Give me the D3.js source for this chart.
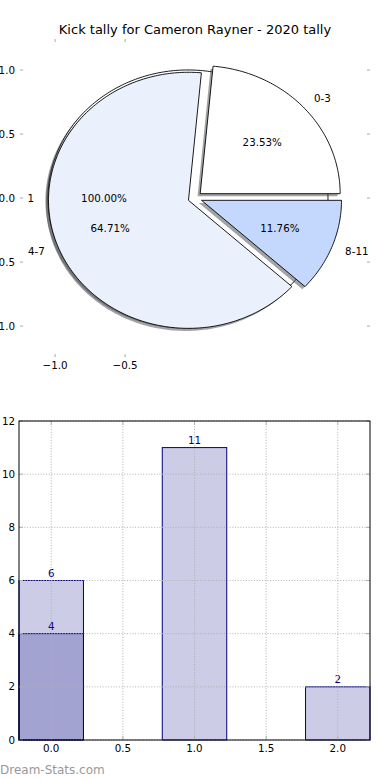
<!DOCTYPE html>
<html><head><meta charset="utf-8">
<script src="https://cdn.jsdelivr.net/npm/d3@7"></script>
<style>body{margin:0;background:#fff} svg{display:block} text{font-family:"DejaVu Sans",sans-serif}</style>
</head><body><svg id="c" width="390" height="780"></svg>
<script>
const title = "Kick tally for Cameron Rayner - 2020 tally";
const pieLabels = ["0-3","4-7","8-11"];
const pieValues = [4,11,2];
const pieColors = ["#ffffff","#eaf1fd","#c4d8fd"];
const outerLabels = ["1"];
const outerValues = [1];
const pieYTicks = [1.0,0.5,0.0,-0.5,-1.0];
const pieXTicks = [-1.0,-0.5];
const barPositions = [0,1,2];
const barValues = [6,11,2];
const overlayPositions = [0];
const overlayValues = [4];
const barXTicks = [0,0.5,1,1.5,2];
const barYTicks = [0,2,4,6,8,10,12];

const svg = d3.select("#c");
const explode = 0.05, labelDist = 1.1, pctDist = 0.6;

// ---------- PIE ----------
const px = d3.scaleLinear().domain([-1.243,1.243]).range([21,369]);
const py = d3.scaleLinear().domain([-1.234,1.234]).range([356,40]);

svg.append("text").attr("x",195).attr("y",34).attr("text-anchor","middle")
  .attr("font-size",13).attr("fill","#000").text(title);

function wedgePath(cx, cy, a0, a1, full){
  const p = d3.path();
  const n = Math.max(8, Math.ceil((a1-a0)/(Math.PI/180)));
  if(!full) p.moveTo(px(cx), py(cy));
  for(let i=0;i<=n;i++){
    const a = a0 + (a1-a0)*i/n;
    const X = px(cx+Math.cos(a)), Y = py(cy+Math.sin(a));
    if(i===0 && full) p.moveTo(X,Y); else p.lineTo(X,Y);
  }
  p.closePath();
  return p.toString();
}

function drawPie(values, labels, colors){
  const arcs = d3.pie().sort(null).startAngle(0).endAngle(2*Math.PI)(values);
  const g = svg.append("g");
  const info = arcs.map((a,i)=>{
    const mid = (a.startAngle+a.endAngle)/2;
    return {a, i, mid, cx: explode*Math.cos(mid), cy: explode*Math.sin(mid),
      full: values.length===1};
  });
  info.forEach(d=>{
    g.append("path").attr("d", wedgePath(d.cx,d.cy,d.a.startAngle,d.a.endAngle,d.full))
      .attr("transform","translate(-2.6,2.6)")
      .attr("fill", "rgba(70,72,76,0.5)").attr("stroke","none");
    g.append("path").attr("d", wedgePath(d.cx,d.cy,d.a.startAngle,d.a.endAngle,d.full))
      .attr("fill", colors[d.i]).attr("stroke","#000").attr("stroke-width",0.9)
      .attr("stroke-linejoin","miter");
  });
  return info;
}

const outerInfo = drawPie(outerValues, outerLabels, ["#ffffff"]);
const mainInfo = drawPie(pieValues, pieLabels, pieColors);

function pieTexts(info, labels, values){
  const total = d3.sum(values);
  info.forEach(d=>{
    const c = Math.cos(d.mid), s = Math.sin(d.mid);
    const lx = d.cx + labelDist*c, ly = d.cy + labelDist*s;
    svg.append("text").attr("x",px(lx)).attr("y",py(ly)).attr("dy","0.35em")
      .attr("text-anchor", lx>=0?"start":"end").attr("font-size",10.3).attr("fill","#000")
      .text(labels[d.i]);
    const tx = d.cx + pctDist*c, ty = d.cy + pctDist*s;
    svg.append("text").attr("x",px(tx)).attr("y",py(ty)).attr("dy","0.35em")
      .attr("text-anchor","middle").attr("font-size",10.3).attr("fill","#000")
      .text((100*values[d.i]/total).toFixed(2)+"%");
  });
}
pieTexts(outerInfo, outerLabels, outerValues);
pieTexts(mainInfo, pieLabels, pieValues);

// pie axis ticks
const fmt = d3.format(".1f");
pieYTicks.forEach(t=>{
  svg.append("rect").attr("x",20).attr("y",py(t)-0.5).attr("width",3).attr("height",1.2).attr("fill","#b8b8b8");
  svg.append("rect").attr("x",367).attr("y",py(t)-0.5).attr("width",3).attr("height",1.2).attr("fill","#b8b8b8");
  svg.append("text").attr("x",15).attr("y",py(t)).attr("dy","0.35em").attr("text-anchor","end")
    .attr("font-size",10.3).attr("fill","#000").text(fmt(t));
});
pieXTicks.forEach(t=>{
  svg.append("rect").attr("x",px(t)-0.5).attr("y",39).attr("width",1.2).attr("height",3).attr("fill","#b8b8b8");
  svg.append("rect").attr("x",px(t)-0.5).attr("y",354).attr("width",1.2).attr("height",3).attr("fill","#b8b8b8");
  svg.append("text").attr("x",px(t)).attr("y",365).attr("dy","0.35em").attr("text-anchor","middle")
    .attr("font-size",10.3).attr("fill","#000").text(fmt(t));
});

// ---------- BAR ----------
const bx = d3.scaleLinear().domain([-0.225,2.225]).range([19,370]);
const by = d3.scaleLinear().domain([0,12]).range([740,421]);
const bw = 0.45;
const bg = svg.append("g");

function drawBars(pos, vals){
  pos.forEach((p,i)=>{
    bg.append("rect").attr("x",bx(p-bw/2)).attr("y",by(vals[i]))
      .attr("width",bx(p+bw/2)-bx(p-bw/2)).attr("height",by(0)-by(vals[i]))
      .attr("fill","rgba(0,0,128,0.2)").attr("stroke","#000080").attr("stroke-width",1);
    bg.append("text").attr("x",bx(p)).attr("y",by(vals[i])-3.5).attr("text-anchor","middle")
      .attr("font-size",10.3).attr("fill","#000080").text(vals[i]);
  });
}
drawBars(barPositions, barValues);
drawBars(overlayPositions, overlayValues);

// grid
barXTicks.forEach(t=>{
  bg.append("line").attr("x1",bx(t)).attr("x2",bx(t)).attr("y1",421).attr("y2",740)
    .attr("stroke","#b0b0b0").attr("stroke-width",1).attr("stroke-dasharray","1,1.7");
});
barYTicks.forEach(t=>{
  bg.append("line").attr("x1",19).attr("x2",370).attr("y1",by(t)).attr("y2",by(t))
    .attr("stroke","#b0b0b0").attr("stroke-width",1).attr("stroke-dasharray","1,1.7");
});
// ticks
barXTicks.forEach(t=>{
  bg.append("line").attr("x1",bx(t)).attr("x2",bx(t)).attr("y1",421).attr("y2",425).attr("stroke","#b0b0b0");
  bg.append("line").attr("x1",bx(t)).attr("x2",bx(t)).attr("y1",736).attr("y2",740).attr("stroke","#b0b0b0");
  bg.append("text").attr("x",bx(t)).attr("y",748).attr("dy","0.35em").attr("text-anchor","middle")
    .attr("font-size",10.3).attr("fill","#000").text(fmt(t));
});
barYTicks.forEach(t=>{
  bg.append("line").attr("x1",19).attr("x2",23).attr("y1",by(t)).attr("y2",by(t)).attr("stroke","#b0b0b0");
  bg.append("line").attr("x1",366).attr("x2",370).attr("y1",by(t)).attr("y2",by(t)).attr("stroke","#b0b0b0");
  bg.append("text").attr("x",15).attr("y",by(t)).attr("dy","0.35em").attr("text-anchor","end")
    .attr("font-size",10.3).attr("fill","#000").text(t);
});
// frame
bg.append("rect").attr("x",19).attr("y",421).attr("width",351).attr("height",319)
  .attr("fill","none").attr("stroke","#000").attr("stroke-width",1);

// watermark
svg.append("text").attr("x",0).attr("y",774).attr("font-size",12).attr("fill","#999")
  .text("Dream-Stats.com");
</script></body></html>
